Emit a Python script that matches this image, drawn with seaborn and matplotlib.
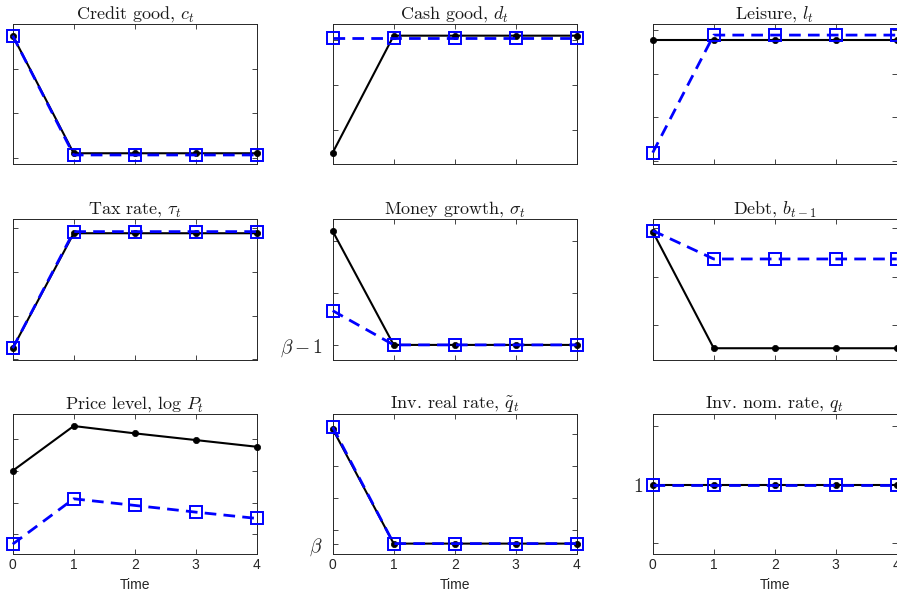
import matplotlib
matplotlib.use("Agg")
import matplotlib.pyplot as plt
import pandas as pd
import seaborn as sns

# Periods shown on the horizontal axis
time = [0, 1, 2, 3, 4]
BETA = 0.96

# Solid black = first policy, dashed blue = second policy
credit_solid = [0.437, 0.3053, 0.3053, 0.3053, 0.3053]
credit_dash = [0.437, 0.3034, 0.3034, 0.3034, 0.3034]
cash_solid = [0.1496, 0.4096, 0.4096, 0.4096, 0.4096]
cash_dash = [0.4038, 0.4038, 0.4038, 0.4038, 0.4038]
leisure_solid = [0.7553, 0.7553, 0.7553, 0.7553, 0.7553]
leisure_dash = [0.7037, 0.7577, 0.7577, 0.7577, 0.7577]
tax_solid = [0.0254, 0.2886, 0.2886, 0.2886, 0.2886]
tax_dash = [0.0254, 0.2923, 0.2923, 0.2923, 0.2923]
money_solid = [0.0038, -0.04, -0.04, -0.04, -0.04]
money_dash = [-0.0268, -0.04, -0.04, -0.04, -0.04]
debt_solid = [0.2932, 0.0518, 0.0518, 0.0518, 0.0518]
debt_dash = [0.2952, 0.2366, 0.2366, 0.2366, 0.2366]
price_solid = [0.2002, 0.3409, 0.3179, 0.2968, 0.2757]
price_dash = [-0.0305, 0.1121, 0.0913, 0.0702, 0.0504]
realrate_solid = [0.9958, 0.96, 0.96, 0.96, 0.96]
realrate_dash = [0.9964, 0.96, 0.96, 0.96, 0.96]
nomrate_solid = [1.0, 1.0, 1.0, 1.0, 1.0]
nomrate_dash = [1.0, 1.0, 1.0, 1.0, 1.0]

titles = [
    r"Credit good, $c_t$",
    r"Cash good, $d_t$",
    r"Leisure, $l_t$",
    r"Tax rate, $\tau_t$",
    r"Money growth, $\sigma_t$",
    r"Debt, $b_{t-1}$",
    r"Price level, $\log\,P_t$",
    r"Inv. real rate, $\tilde{q}_t$",
    r"Inv. nom. rate, $q_t$",
]
solid_series = [credit_solid, cash_solid, leisure_solid, tax_solid, money_solid,
                debt_solid, price_solid, realrate_solid, nomrate_solid]
dash_series = [credit_dash, cash_dash, leisure_dash, tax_dash, money_dash,
               debt_dash, price_dash, realrate_dash, nomrate_dash]
ylims = [(0.2933, 0.45), (0.1244, 0.4356), (0.6985, 0.7628),
         (-0.0014, 0.3206), (-0.0458, 0.0084), (0.0275, 0.3188),
         (-0.063, 0.3787), (0.9566, 1.0005), (0.9881, 1.0120)]
yticks = [[0.30, 0.35, 0.40], [0.2, 0.3, 0.4], [0.70, 0.72, 0.74, 0.76],
          [0.0, 0.1, 0.2, 0.3], [-0.04, -0.02, 0.0], [0.1, 0.2, 0.3],
          [0.0, 0.1, 0.2, 0.3], [BETA, 0.9641, 0.9741, 0.9841, 0.9941],
          [0.99, 1.0, 1.01]]
yticklabels = [None, None, None, None,
               [r"$\beta-1$", "", ""], None, None,
               [r"$\beta$", "", "", "", ""], ["", r"$1$", ""]]

sns.set_theme(style="white")
plt.rcParams["mathtext.fontset"] = "cm"
plt.rcParams["font.family"] = ["Liberation Sans", "DejaVu Sans"]

fig = plt.figure(figsize=(8.97, 5.95), dpi=100)

lefts = [0.01416, 0.3709, 0.7277]
bottoms = [0.7244, 0.3950, 0.0681]
width = 0.2720
heights = [0.2353, 0.2365, 0.2361]
frame = "#262626"

for i in range(9):
    r, c = divmod(i, 3)
    ax = fig.add_axes([lefts[c], bottoms[r], width, heights[r]])
    df = pd.DataFrame({"Time": time, "solid": solid_series[i], "dash": dash_series[i]})
    sns.lineplot(data=df, x="Time", y="solid", ax=ax, color="black",
                 linewidth=1.5, marker="o", markersize=4.5,
                 markerfacecolor="black", markeredgecolor="black",
                 markeredgewidth=0.5, clip_on=False, zorder=3)
    sns.lineplot(data=df, x="Time", y="dash", ax=ax, color="blue",
                 linewidth=2.0, linestyle=(0, (4.2, 2.6)), marker="s",
                 markersize=8.5, markerfacecolor="none", markeredgecolor="blue",
                 markeredgewidth=1.4, clip_on=False, zorder=4)
    ax.set_xlim(0, 4)
    ax.set_ylim(*ylims[i])
    ax.set_xticks(time)
    ax.set_yticks(yticks[i])
    if yticklabels[i] is None:
        ax.set_yticklabels([])
    else:
        ax.set_yticklabels(yticklabels[i])
    ax.set_ylabel("")
    if r == 2:
        ax.set_xticklabels([str(t) for t in time])
        ax.set_xlabel("Time", fontsize=10, labelpad=4)
    else:
        ax.set_xticklabels([])
        ax.set_xlabel("")
    ax.tick_params(direction="in", bottom=True, left=True, top=True, right=True,
                   length=3.5, width=0.6, color=frame)
    ax.tick_params(axis="x", labelsize=10, pad=2.5, labelcolor="#262626")
    ax.tick_params(axis="y", labelsize=14, pad=7, labelcolor="#262626")
    for s in ax.spines.values():
        s.set_visible(True)
        s.set_color(frame)
        s.set_linewidth(0.7)
    ax.set_title(titles[i], fontsize=13, pad=4, color="#1a1a1a",
                 fontfamily="cmr10")
    ax.set_facecolor("white")

fig.savefig("out.png", dpi=100, facecolor="white")
